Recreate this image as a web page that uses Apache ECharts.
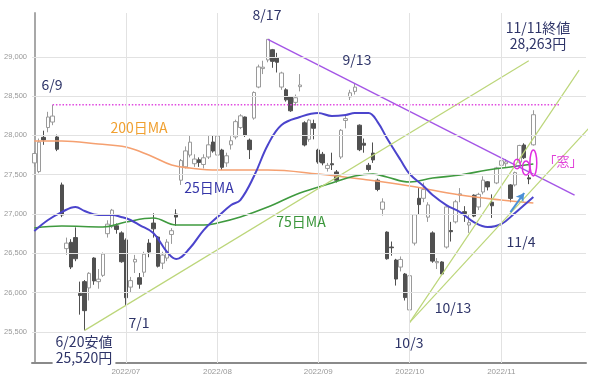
<!DOCTYPE html>
<html><head><meta charset="utf-8">
<script src="https://cdn.jsdelivr.net/npm/echarts@6/dist/echarts.min.js"></script>
<style>html,body{margin:0;padding:0;background:#fff}#c{width:600px;height:377px}</style>
</head><body><div id="c"></div>
<script>
// ---- data ----
const dates = ['6/3','6/6','6/7','6/8','6/9','6/10','6/13','6/14','6/15','6/16','6/17','6/20','6/21','6/22','6/23','6/24','6/27','6/28','6/29','6/30',
'7/1','7/4','7/5','7/6','7/7','7/8','7/11','7/12','7/13','7/14','7/15','7/19','7/20','7/21','7/22','7/25','7/26','7/27','7/28','7/29',
'8/1','8/2','8/3','8/4','8/5','8/8','8/9','8/10','8/12','8/15','8/16','8/17','8/18','8/19','8/22','8/23','8/24','8/25','8/26','8/29','8/30','8/31',
'9/1','9/2','9/5','9/6','9/7','9/8','9/9','9/12','9/13','9/14','9/15','9/16','9/20','9/21','9/22','9/26','9/27','9/28','9/29','9/30',
'10/3','10/4','10/5','10/6','10/7','10/11','10/12','10/13','10/14','10/17','10/18','10/19','10/20','10/21','10/24','10/25','10/26','10/27','10/28','10/31',
'11/1','11/2','11/4','11/7','11/8','11/9','11/10','11/11'];
const futureDates = ['11/14','11/15','11/16','11/17','11/18','11/21','11/22','11/24','11/25','11/28','11/29'];

const opens = [27650,27540,27975,28100,28170,27980,27370,26560,26640,26700,25990,26140,26060,26440,26140,26220,26750,26840,26850,26760,
26670,26070,26390,26190,26260,26630,26885,26707,26375,26440,26740,27000,27430,27600,27750,27640,27690,27630,27725,27916,
27750,27814,27650,27880,27980,28100,28234,27940,28220,28615,28850,28960,29090,28990,28615,28580,28490,28420,28620,28160,27950,28150,
27814,27760,27580,27640,27535,27725,28190,28490,28560,28130,27900,27620,27775,27430,27060,26770,26580,26415,26325,26237,
25780,26630,27200,27200,26960,26760,26380,26390,26580,26790,26900,27240,27030,26860,27240,27090,27280,27410,27150,27395,
27620,27640,27370,27370,27660,27878,27460,27880];
const closes = [27770,27915,27943,28234,28246,27824,26987,26630,26326,26431,25963,25771,26246,26149,26171,26491,26871,27049,26804,26393,
25935,26153,26423,26107,26490,26517,26812,26336,26478,26643,26788,26961,27680,27803,27914,27699,27655,27715,27880,27801,
27993,27594,27741,27932,28175,28249,27999,27819,28546,28871,28868,29222,28942,28930,28794,28452,28313,28479,28641,27878,28195,28091,
27661,27650,27619,27626,27430,28065,28214,28542,28614,27818,27875,27567,27688,27313,27153,26431,26571,26173,26422,25937,
26215,26992,27120,27311,27116,26401,26396,26237,27090,26775,27156,27257,27006,26890,26974,27250,27431,27345,27105,27587,
27678,27663,27199,27527,27872,27716,27446,28263];
const lows = [27600,27520,27880,28040,28130,27800,26960,26480,26300,26400,25720,25520,25900,26100,26050,26200,26700,26820,26750,26380,
25835,26000,26250,26050,26200,26450,26700,26320,26300,26400,26620,26850,27370,27580,27720,27600,27600,27580,27700,27780,
27720,27560,27600,27820,27950,28080,27980,27700,28200,28600,28780,28930,28860,28800,28580,28430,28300,28380,28560,27860,27920,27950,
27640,27620,27540,27560,27400,27700,28090,28450,28520,27800,27780,27540,27650,27290,26980,26420,26470,26090,26270,25900,
25621,26600,27000,27150,26900,26380,26300,26228,26560,26650,26880,27150,26900,26760,26960,27050,27250,27300,26950,27380,
27580,27600,27150,27350,27640,27700,27380,27870];
const highs = [27800,27960,28060,28300,28389,28010,27400,26700,26680,26830,26140,26160,26260,26450,26300,26510,26920,27065,26880,26780,
26690,26200,26480,26250,26520,26680,27010,26720,26520,26680,26820,27060,27700,27860,28000,27760,27720,27760,28000,28000,
28010,27830,27780,27990,28200,28270,28240,27960,28560,28900,28950,29222,29100,29050,28810,28600,28500,28520,28780,28180,28210,28200,
27830,27790,27650,27780,27560,28080,28260,28580,28659,28140,27960,27650,27910,27450,27200,26780,26650,26430,26460,26250,
26230,27000,27330,27400,27150,26780,26440,26400,27100,26900,27180,27330,27100,26990,27250,27270,27480,27420,27250,27600,
27700,27700,27380,27540,27880,27900,27500,28320];

const monthStarts = ['7/1','8/1','9/1','10/3','11/1'];
const monthLabels = ['2022/07','2022/08','2022/09','2022/10','2022/11'];
const yTicks = [25500,26000,26500,27000,27500,28000,28500,29000];

const ma25 = [['6/3',26784],['6/8',26924],['6/13',27025],['6/16',27089],['6/20',27038],['6/23',26987],['6/28',26987],['6/30',26962],
['7/4',26924],['7/6',26860],['7/11',26758],['7/14',26517],['7/19',26428],['7/22',26568],['7/27',26796],['8/1',26962],['8/4',27114],
['8/8',27178],['8/12',27483],['8/17',27878],['8/22',28132],['8/26',28234],['9/1',28285],['9/6',28247],['9/9',28260],['9/13',28285],
['9/16',28285],['9/21',28170],['9/26',27967],['9/29',27687],['10/3',27509],['10/6',27356],['10/11',27242],['10/14',27114],
['10/19',27025],['10/24',26898],['10/27',26835],['11/1',26873],['11/7',27013],['11/9',27114],['11/11',27216]];
const ma75 = [['6/3',26822],['6/13',26847],['6/24',26835],['7/1',26898],['7/11',26949],['7/19',26860],['7/27',26860],['8/1',26885],
['8/8',26962],['8/17',27089],['8/26',27267],['9/6',27394],['9/13',27483],['9/20',27509],['9/26',27470],['10/3',27407],
['10/11',27458],['10/19',27496],['10/27',27560],['11/4',27598],['11/11',27636]];
const ma200 = [['6/3',27929],['6/13',27929],['6/23',27890],['7/1',27852],['7/8',27750],['7/15',27623],['7/22',27585],['8/1',27560],
['8/17',27560],['9/1',27509],['9/16',27432],['10/3',27356],['10/19',27242],['11/1',27178],['11/11',27140]];

const resistance = {from:'6/9', to:'11/21', value:28390};
const downTrend = [['8/17',29222],['11/25',27240]];
const upTrends = [
  [['6/20',25520],['11/10',28950]],
  [['10/3',25621],['11/28',28830]],
  [['10/3',25621],[123.3,28228]]
];
const arrowLine = [['11/4',27025],['11/9',27267]];
const gapMarks = [[105.45,27636,0.7,60],[107.4,27585,0.8,90],[109.0,27650,0.75,165]];

// ---- chart ----
const categories = dates.concat(futureDates);
const idx = d => typeof d === 'number' ? d : categories.indexOf(d);
const chart = echarts.init(document.getElementById('c'), null, {renderer:'canvas'});
const navy = '#2e3468';
const font = s => s + 'px "Noto Sans CJK JP", "Noto Sans", sans-serif';
function txt(x, y, text, color, size, extra) {
  return {type:'text', x, y, z:100, style:Object.assign({text, fill:color, font:font(size), align:'center', verticalAlign:'middle'}, extra||{})};
}
const trendSeries = (pts, color, width) => ({
  type:'line', xAxisIndex:1, yAxisIndex:0, data: pts.map(p=>[idx(p[0]), p[1]]),
  showSymbol:false, clip:false, silent:true, z:4,
  lineStyle:{color, width}
});

const option = {
  animation:false,
  grid:{left:32, right:14, top:13, bottom:14},
  xAxis:[
    {type:'category', data:categories, boundaryGap:true,
     axisLine:{lineStyle:{color:'#8a8a8a', width:2}}, axisTick:{show:false}, splitLine:{show:false},
     axisLabel:{interval:(i,v)=>monthStarts.includes(v), formatter:v=>monthLabels[monthStarts.indexOf(v)], color:'#999', fontSize:8, margin:5}},
    {type:'value', min:-0.5, max:categories.length-0.5, show:false}
  ],
  yAxis:{type:'value', min:25105, max:29557, splitLine:{show:false}, axisTick:{show:false},
    axisLine:{show:true, lineStyle:{color:'#a8a8a8', width:2}},
    axisLabel:{customValues:yTicks, formatter:v=>v.toLocaleString('en-US'), color:'#999', fontSize:7.5, margin:5}},
  series:[
    {type:'line', data:[], z:1, silent:true,
     markLine:{silent:true, symbol:'none', label:{show:false}, lineStyle:{color:'#e2e2e2', width:1, type:'solid'},
       data: yTicks.map(v=>({yAxis:v})).concat(monthStarts.map(d=>({xAxis:d})))}},
    {type:'candlestick', z:2, barWidth:4,
     data: dates.map((d,i)=>[opens[i], closes[i], lows[i], highs[i]]),
     itemStyle:{color:'#ffffff', color0:'#505050', borderColor:'#9a9a9a', borderColor0:'#505050', borderWidth:1}},
    {type:'line', name:'200', data:ma200, smooth:0.4, showSymbol:false, z:3, lineStyle:{color:'#f5a070', width:1.6}},
    {type:'line', name:'75', data:ma75, smooth:0.4, showSymbol:false, z:3, lineStyle:{color:'#3f9a3f', width:1.6}},
    {type:'line', name:'25', data:ma25, smooth:0.4, showSymbol:false, z:3, lineStyle:{color:'#4b44cc', width:2}},
    trendSeries(downTrend, '#a455e6', 1.4),
    ...upTrends.map(t=>trendSeries(t, '#bcd67a', 1.2)),
    {type:'line', xAxisIndex:1, data:[[idx(resistance.from), resistance.value],[idx(resistance.to), resistance.value]],
     showSymbol:false, z:4, lineStyle:{color:'#e048e0', width:1.5, type:[1.5,1.8]}},
    {type:'line', data:[], z:6, silent:true,
     markLine:{silent:true, symbol:['none','arrow'], symbolSize:[7,8], label:{show:false},
       lineStyle:{color:'#4a90d8', width:2, type:'solid'},
       data:[[{coord:arrowLine[0]},{coord:arrowLine[1]}]]}},
    {type:'custom', xAxisIndex:1, yAxisIndex:0, z:6, data:gapMarks, encode:{x:0, y:1}, silent:true,
     renderItem:(params, api)=>{
       const c = api.coord([api.value(0), api.value(1)]);
       const s = api.size([api.value(2), api.value(3)]);
       return {type:'ellipse', shape:{cx:c[0], cy:c[1], rx:s[0], ry:s[1]}, style:{fill:'none', stroke:'#e02ee0', lineWidth:1.5}};
     }}
  ],
  graphic:[
    txt(52, 85, '6/9', navy, 14),
    txt(267, 15, '8/17', navy, 14),
    txt(357, 60, '9/13', navy, 14),
    txt(538, 36, '11/11終値\n28,263円', navy, 14, {lineHeight:16}),
    txt(84, 350, '6/20安値\n25,520円', navy, 14, {lineHeight:16, backgroundColor:'#fff', padding:[0,3,2,3]}),
    txt(139, 323, '7/1', navy, 14),
    txt(409, 343, '10/3', navy, 14),
    txt(453, 308, '10/13', navy, 14),
    txt(521, 242, '11/4', navy, 14),
    txt(563, 161, '「窓」', '#e040d8', 13),
    txt(139, 128, '200日MA', '#f0a030', 14),
    txt(209, 188, '25日MA', '#3535a8', 14),
    txt(301, 222, '75日MA', '#3a963a', 14)
  ]
};
chart.setOption(option);
</script>
</body></html>
